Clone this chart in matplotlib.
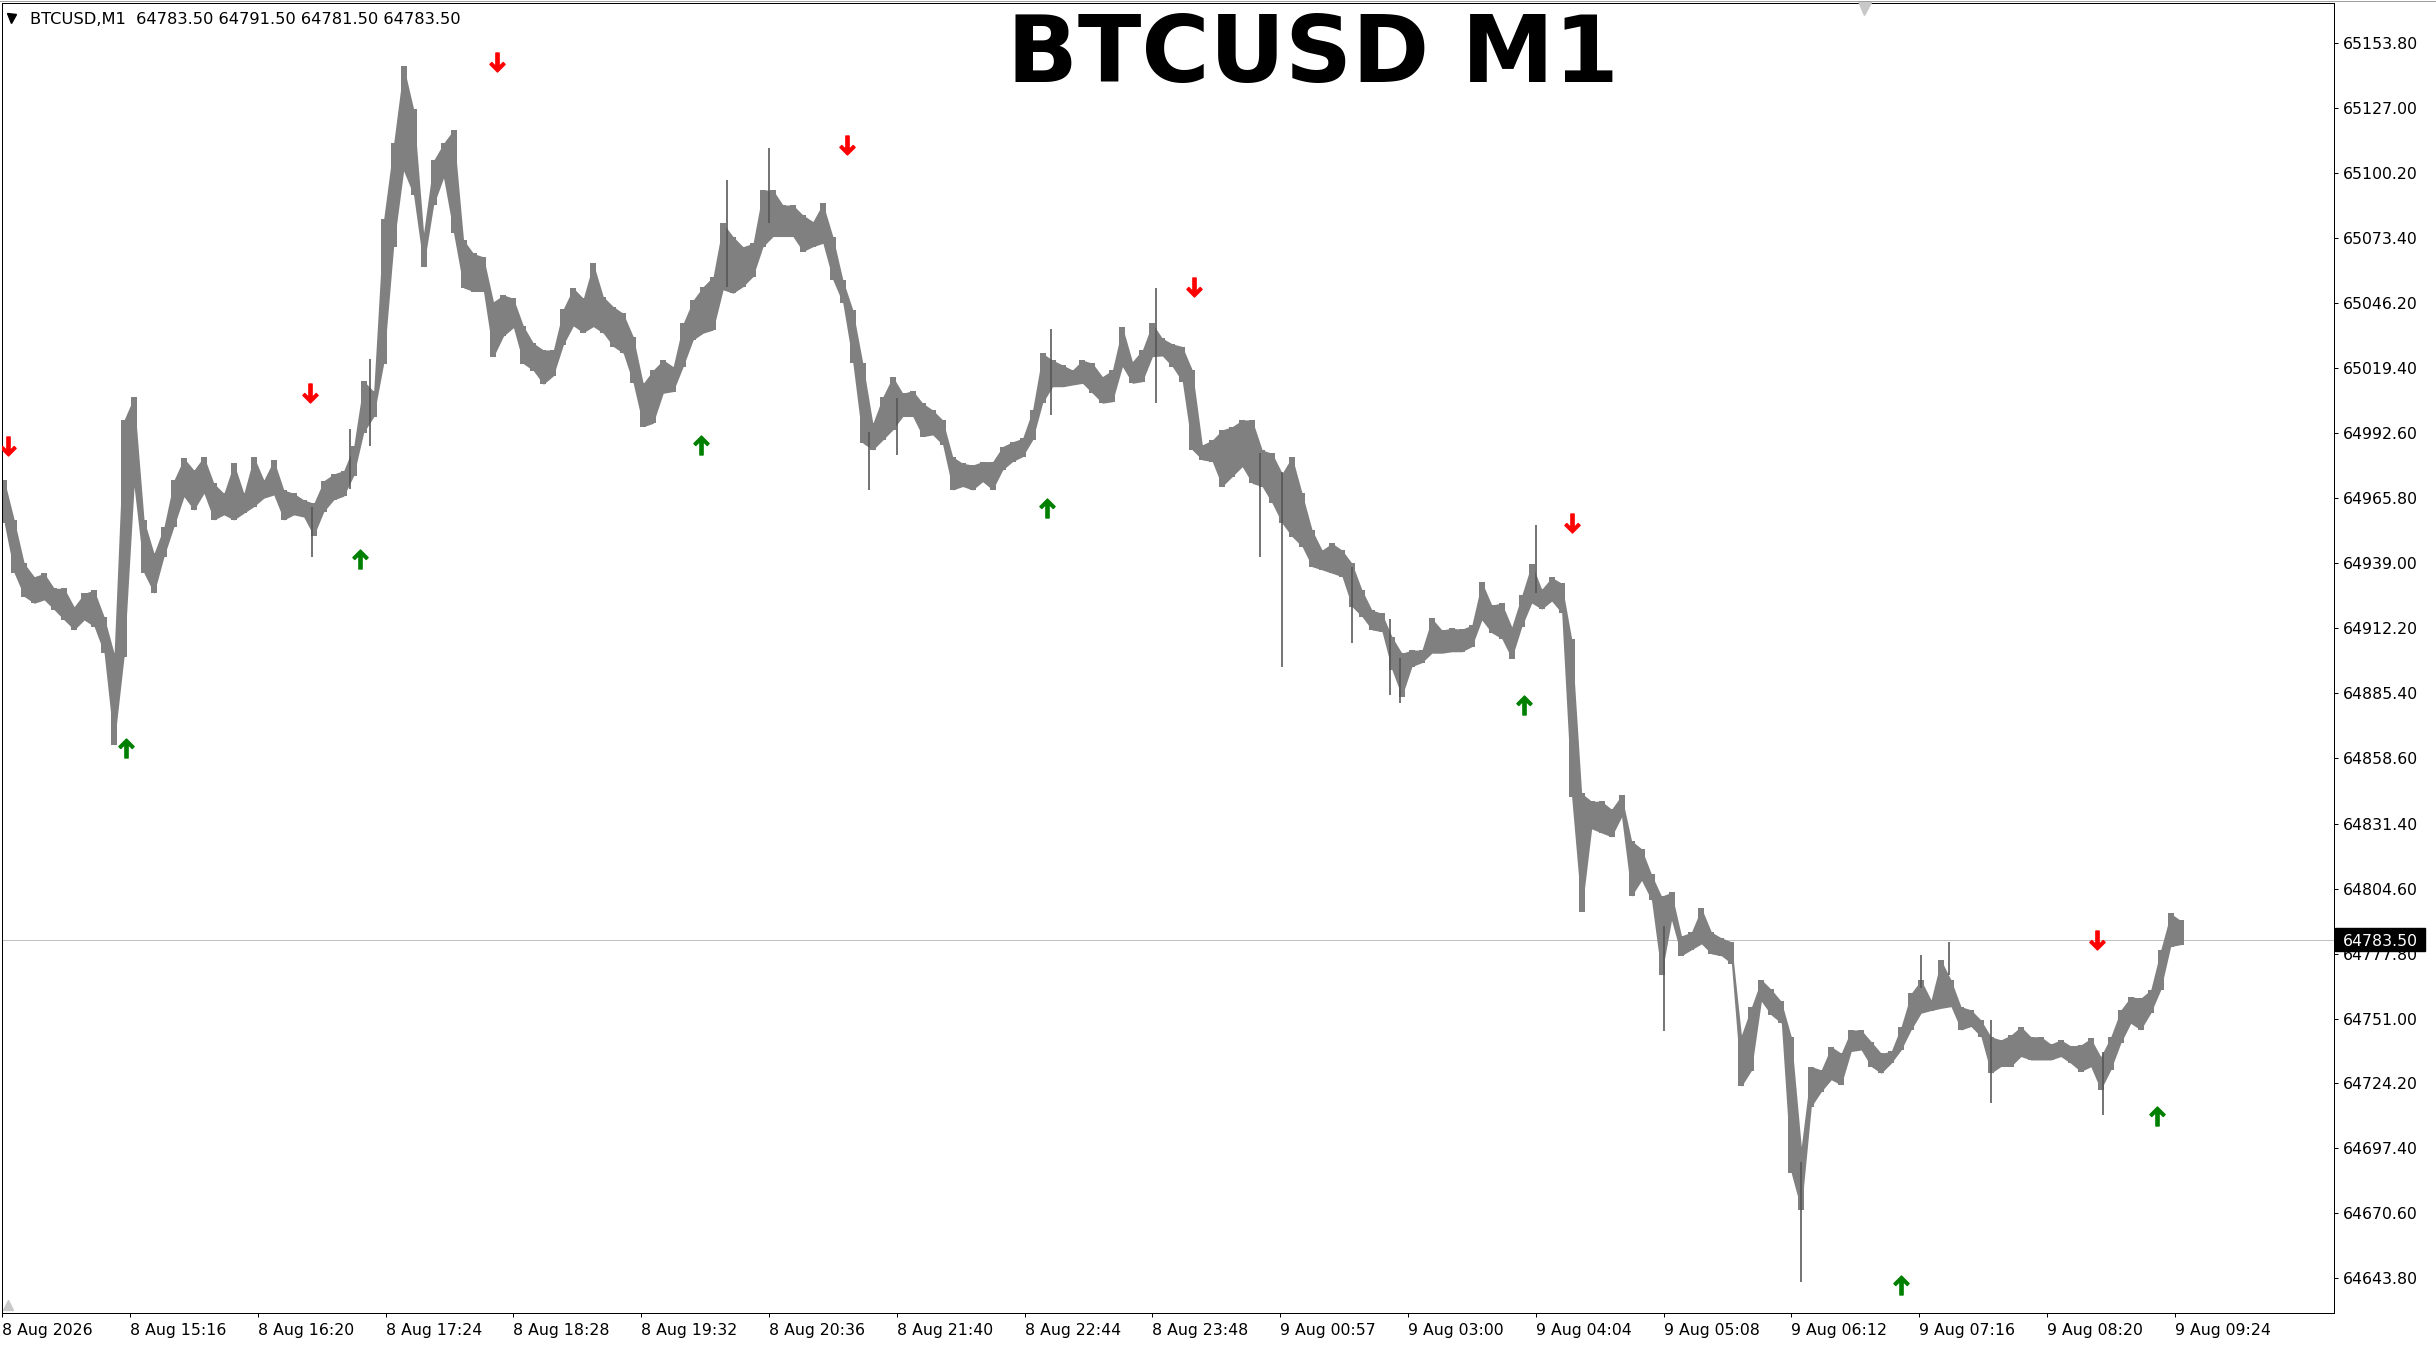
import numpy as np
import matplotlib
matplotlib.use("Agg")
import matplotlib.pyplot as plt
from matplotlib.path import Path
from matplotlib.patches import Rectangle
from matplotlib.lines import Line2D
from matplotlib.transforms import blended_transform_factory

plt.rcParams['font.family'] = ['DejaVu Sans']

# ---- data (one sample every 5 one-minute bars) ----
STEP = 5
bar_high = [
    64973.3, 64956.8, 64938.9, 64933.4, 64934.8, 64928.6, 64928.6, 64921.0, 64926.5, 64927.9,
    64916.9, 64901.8, 64998.1, 65007.7, 64956.8, 64943.0, 64954.1, 64973.3, 64982.3, 64977.4,
    64983.0, 64971.9, 64967.8, 64980.2, 64967.8, 64983.0, 64973.3, 64981.6, 64969.2, 64967.8,
    64965.1, 64963.7, 64973.0, 64975.8, 64977.2, 64987.2, 65014.2, 65009.9, 65081.0, 65112.3,
    65144.2, 65126.5, 65075.3, 65105.2, 65112.3, 65117.9, 65072.5, 65066.8, 65065.4, 65046.9,
    65049.7, 65048.3, 65036.9, 65029.8, 65027.0, 65027.0, 65044.0, 65052.6, 65048.3, 65062.8,
    65049.0, 65044.9, 65042.1, 65032.5, 65013.2, 65018.7, 65022.9, 65020.1, 65038.0, 65047.6,
    65053.1, 65057.3, 65079.3, 65073.8, 65069.6, 65071.0, 65093.0, 65093.0, 65086.8, 65086.8,
    65082.7, 65080.0, 65087.5, 65073.8, 65055.9, 65043.5, 65021.5, 64996.7, 65007.7, 65016.0,
    65009.1, 65010.2, 65005.0, 65002.2, 64998.1, 64982.9, 64980.2, 64979.5, 64980.9, 64980.9,
    64987.1, 64989.1, 64990.5, 65002.2, 65025.6, 65022.8, 65020.8, 65018.7, 65022.8, 65021.5,
    65016.0, 65018.7, 65036.6, 65022.2, 65027.0, 65038.0, 65031.8, 65029.5, 65028.4, 65018.7,
    64987.8, 64989.8, 64994.0, 64995.3, 64998.1, 64998.1, 64985.7, 64984.3, 64976.1, 64982.9,
    64967.8, 64952.7, 64944.4, 64947.2, 64944.4, 64938.9, 64927.9, 64919.6, 64918.3, 64908.6,
    64901.8, 64903.1, 64903.1, 64916.2, 64911.4, 64912.1, 64911.7, 64913.4, 64931.3, 64921.7,
    64922.5, 64912.7, 64925.7, 64938.8, 64928.2, 64933.1, 64930.7, 64907.8, 64844.0, 64840.7,
    64840.7, 64837.4, 64843.2, 64824.4, 64821.1, 64810.5, 64801.5, 64803.1, 64785.1, 64786.7,
    64796.6, 64786.7, 64784.3, 64782.7, 64744.2, 64755.7, 64767.1, 64763.0, 64758.1, 64743.5,
    64698.1, 64731.2, 64729.8, 64739.4, 64736.7, 64746.3, 64746.3, 64741.5, 64736.7, 64737.4,
    64747.7, 64761.4, 64766.9, 64758.7, 64775.2, 64766.9, 64755.9, 64754.6, 64750.4, 64743.5,
    64742.2, 64744.2, 64747.7, 64743.5, 64743.5, 64740.5, 64742.2, 64739.7, 64740.1, 64742.8,
    64735.3, 64743.5, 64754.5, 64760.0, 64759.4, 64762.8, 64779.3, 64794.4, 64791.5,
]
bar_low = [
    64955.4, 64934.8, 64925.2, 64922.4, 64923.8, 64919.7, 64915.5, 64911.4, 64915.5, 64912.8,
    64901.8, 64863.9, 64900.4, 64970.6, 64934.8, 64926.5, 64941.7, 64954.1, 64966.4, 64960.9,
    64967.8, 64956.8, 64958.9, 64956.8, 64959.6, 64962.3, 64965.8, 64967.1, 64956.8, 64958.9,
    64958.0, 64950.2, 64960.2, 64965.1, 64966.6, 64975.1, 64992.9, 64999.3, 65021.3, 65069.6,
    65100.9, 65090.9, 65061.1, 65086.7, 65098.0, 65075.3, 65052.6, 65051.1, 65051.1, 65024.1,
    65032.7, 65036.2, 65021.3, 65018.4, 65012.8, 65016.3, 65029.1, 65036.9, 65034.1, 65036.6,
    65033.9, 65028.4, 65025.6, 65013.2, 64995.3, 64996.7, 65009.1, 65009.8, 65020.1, 65031.1,
    65033.9, 65035.2, 65051.8, 65050.4, 65053.1, 65057.3, 65069.6, 65073.8, 65073.8, 65073.8,
    65067.6, 65069.6, 65071.0, 65055.9, 65046.2, 65021.5, 64988.5, 64985.7, 64989.8, 64994.0,
    64999.5, 64999.5, 64991.2, 64991.9, 64987.8, 64969.2, 64970.6, 64969.2, 64972.6, 64969.2,
    64977.4, 64980.9, 64982.9, 64989.8, 65005.0, 65011.8, 65011.8, 65012.5, 65013.2, 65009.1,
    65005.0, 65005.6, 65020.1, 65013.2, 65013.9, 65024.2, 65024.5, 65020.1, 65013.9, 64985.7,
    64981.6, 64980.9, 64970.6, 64974.7, 64978.8, 64971.9, 64970.6, 64963.7, 64955.4, 64949.9,
    64945.8, 64937.5, 64936.2, 64934.8, 64933.4, 64921.0, 64916.9, 64911.4, 64910.7, 64894.9,
    64883.9, 64896.3, 64897.9, 64901.8, 64901.8, 64902.4, 64902.4, 64904.5, 64915.5, 64910.2,
    64907.8, 64899.6, 64912.7, 64922.5, 64920.0, 64923.3, 64918.4, 64842.3, 64795.0, 64829.3,
    64827.6, 64826.0, 64834.2, 64801.5, 64808.0, 64799.8, 64768.8, 64791.6, 64776.9, 64779.4,
    64781.8, 64777.7, 64776.9, 64773.7, 64723.0, 64729.5, 64758.1, 64752.4, 64749.1, 64687.1,
    64672.0, 64714.6, 64720.8, 64725.7, 64723.6, 64737.4, 64738.0, 64731.2, 64728.4, 64732.5,
    64738.0, 64746.3, 64753.2, 64754.3, 64755.2, 64755.9, 64746.3, 64747.7, 64743.5, 64728.4,
    64731.2, 64731.2, 64735.3, 64733.9, 64733.9, 64733.9, 64735.3, 64732.5, 64729.1, 64731.1,
    64721.5, 64729.8, 64740.8, 64749.0, 64746.3, 64753.2, 64762.8, 64780.7, 64781.5,
]

# single long-wick bars
spike_bar = [155, 174, 184, 363, 384, 434, 448, 525, 578, 630, 641,
             676, 695, 700, 768, 832, 901, 961, 975, 996, 1052]
spike_high = [64962.3, 64994.3, 65023.4, 65097.2, 65110.2, 64993.3, 65007.0, 65035.5,
              65052.4, 64984.3, 64976.8, 64937.5, 64916.0, 64899.7, 64954.9, 64789.2,
              64691.9, 64777.3, 64782.8, 64750.4, 64737.3]
spike_low = [64941.7, 64969.4, 64987.2, 65053.1, 65079.3, 64969.2, 64983.6, 65000.1,
             65005.0, 64941.7, 64896.3, 64905.9, 64884.6, 64881.4, 64926.6, 64745.9,
             64642.4, 64763.5, 64769.0, 64716.0, 64711.2]

# signal arrows
sell_bar = [3, 154, 248, 423, 597, 786, 1049]
sell_price = [64987.3, 65009.2, 65145.7, 65111.6, 65053.1, 64955.7, 64783.4]
buy_bar = [62, 179, 350, 523, 762, 951, 1079]
buy_price = [64862.5, 64940.7, 64987.7, 64961.6, 64880.5, 64641.0, 64710.7]

last_price = 64783.5
header = "BTCUSD,M1  64783.50 64791.50 64781.50 64783.50"

y_tick_values = [65153.80, 65127.00, 65100.20, 65073.40, 65046.20, 65019.40, 64992.60,
                 64965.80, 64939.00, 64912.20, 64885.40, 64858.60, 64831.40, 64804.60,
                 64777.80, 64751.00, 64724.20, 64697.40, 64670.60, 64643.80]
x_tick_labels = ["8 Aug 2026", "8 Aug 15:16", "8 Aug 16:20", "8 Aug 17:24", "8 Aug 18:28",
                 "8 Aug 19:32", "8 Aug 20:36", "8 Aug 21:40", "8 Aug 22:44", "8 Aug 23:48",
                 "9 Aug 00:57", "9 Aug 03:00", "9 Aug 04:04", "9 Aug 05:08", "9 Aug 06:12",
                 "9 Aug 07:16", "9 Aug 08:20", "9 Aug 09:24"]
BARS_PER_LABEL = 64

# ---- layout (pixels) ----
W_PX, H_PX = 2436, 1346
DPI = 100
PT = 72.0 / DPI  # points per pixel
plot_l, plot_r, plot_t, plot_b = 1.5, 2334.0, 3.0, 1313.0

fig = plt.figure(figsize=(W_PX / DPI, H_PX / DPI), dpi=DPI)
ax = fig.add_axes([plot_l / W_PX, 1 - plot_b / H_PX,
                   (plot_r - plot_l) / W_PX, (plot_b - plot_t) / H_PX])
ax.set_xlim(-0.4, 1167.8)
ax.set_ylim(64629.45, 65170.2)
px_per_price = (plot_b - plot_t) / (65170.2 - 64629.45)

# price bars: sampled high/low band, with a short block at every sample
bar_pos = np.arange(len(bar_high)) * STEP + 1
bar_gray = "#808080"
ax.fill_between(bar_pos, bar_low, bar_high, color=bar_gray, linewidth=0, zorder=2)
ax.vlines(bar_pos, bar_low, bar_high, color=bar_gray, linewidth=6.0 * PT, zorder=2)
ax.vlines(spike_bar, spike_low, spike_high, color="#555555", linewidth=1.6 * PT, zorder=2)

ax.axhline(last_price, color="#c0c0c0", linewidth=1.0 * PT, zorder=1)

# arrow markers (thick MT4 style)
down_verts = [(-0.17, 1.0), (0.17, 1.0), (0.17, -0.43), (0.6, 0.0), (0.8, -0.2),
              (0.0, -1.0), (-0.8, -0.2), (-0.6, 0.0), (-0.17, -0.43), (-0.17, 1.0)]
codes = [Path.MOVETO] + [Path.LINETO] * (len(down_verts) - 2) + [Path.CLOSEPOLY]
down_arrow = Path(down_verts, codes)
up_arrow = Path([(x, -y) for x, y in down_verts], codes)
ax.plot(sell_bar, sell_price, linestyle="none", marker=down_arrow, markersize=19 * PT,
        color="#ff0000", zorder=4)
ax.plot(buy_bar, buy_price, linestyle="none", marker=up_arrow, markersize=19 * PT,
        color="#008000", zorder=4)

# axes styling
for s in ax.spines.values():
    s.set_linewidth(1.0 * PT)
    s.set_color("black")
ax.yaxis.tick_right()
ax.set_yticks(y_tick_values)
ax.set_yticklabels([f"{v:.2f}" for v in y_tick_values])
ax.set_xticks(np.arange(len(x_tick_labels)) * BARS_PER_LABEL)
ax.set_xticklabels(x_tick_labels)
for lbl in ax.get_xticklabels():
    lbl.set_horizontalalignment("left")
ax.tick_params(axis="y", direction="out", length=3.5 * PT, width=1.0 * PT, pad=5.5 * PT,
               labelsize=11.3, colors="black")
ax.tick_params(axis="x", direction="out", length=4 * PT, width=1.0 * PT, pad=5.5 * PT,
               labelsize=11.3, colors="black")

# current price tag
blend = blended_transform_factory(fig.transFigure, ax.transData)
box_h = 23 / px_per_price
ax.add_patch(Rectangle((2335 / W_PX, last_price - box_h / 2), 90 / W_PX, box_h,
                       transform=blend, facecolor="black", edgecolor="black",
                       clip_on=False, zorder=9))
ax.text(2343 / W_PX, last_price, f"{last_price:.2f}", transform=blend, color="white",
        fontsize=11.3, ha="left", va="center_baseline", zorder=10, clip_on=False)

# header / title
fig.text(29.5 / W_PX, 1 - 24.5 / H_PX, header, fontsize=11.7, ha="left", va="baseline")
fig.add_artist(Line2D([10.5 / W_PX], [1 - 18 / H_PX], marker="v", markersize=9 * PT,
                      color="black", linestyle="none", transform=fig.transFigure))
fig.text(1313 / W_PX, 1 - 82.3 / H_PX, "BTCUSD M1", fontsize=67, fontweight="bold",
         ha="center", va="baseline", color="black")

# chart shift markers and window edges
ax.plot([(1864 - plot_l) / (plot_r - plot_l)], [1 - 5 / (plot_b - plot_t)], marker="v",
        markersize=13 * PT, color="#c8c8c8", transform=ax.transAxes, clip_on=False, zorder=5)
ax.plot([0.003], [0.006], marker="^", markersize=10 * PT, color="#c8c8c8",
        transform=ax.transAxes, clip_on=False, zorder=5)
fig.add_artist(Line2D([0, 1], [1 - 0.5 / H_PX] * 2, color="#a0a0a0", linewidth=1.0 * PT,
                      transform=fig.transFigure))
fig.add_artist(Line2D([1 - 0.5 / W_PX] * 2, [0, 1], color="#a0a0a0", linewidth=1.0 * PT,
                      transform=fig.transFigure))

fig.savefig("out.png", dpi=DPI, facecolor="white")
